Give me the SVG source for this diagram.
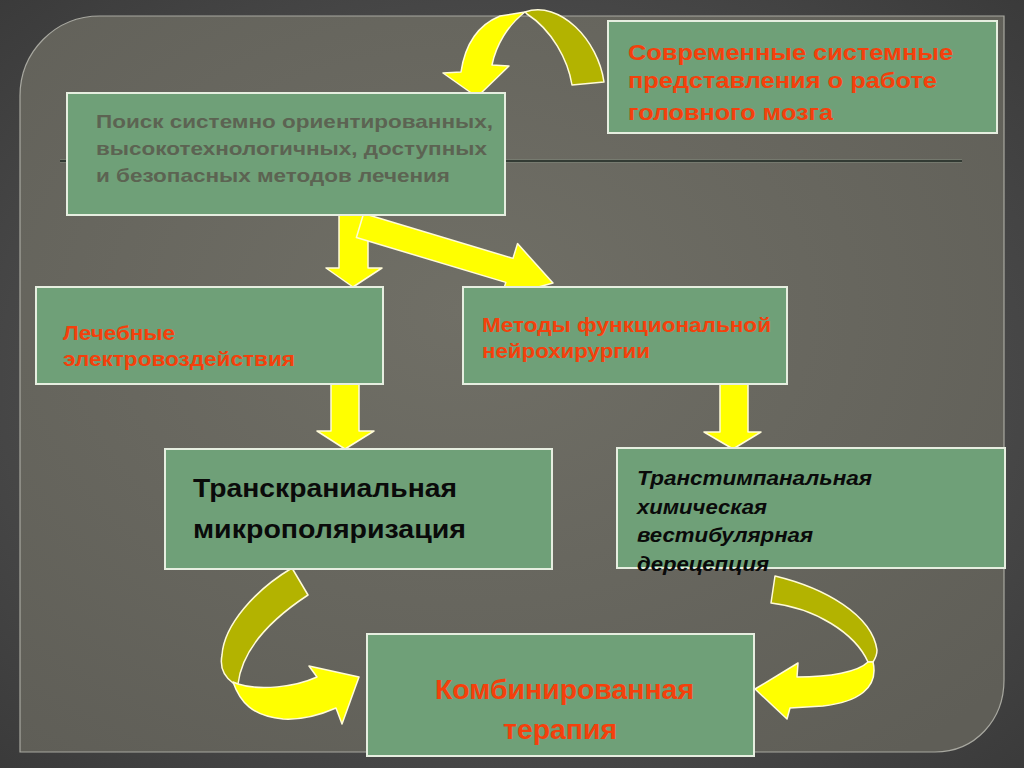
<svg xmlns="http://www.w3.org/2000/svg" width="1024" height="768" viewBox="0 0 1024 768">
<defs>
<radialGradient id="bg" cx="0.5" cy="0.5" r="0.75">
<stop offset="0" stop-color="#626262"/>
<stop offset="1" stop-color="#383838"/>
</radialGradient>
<radialGradient id="panel" cx="0.45" cy="0.4" r="0.75">
<stop offset="0" stop-color="#706f66"/>
<stop offset="1" stop-color="#5f5e57"/>
</radialGradient>
<style>
.box{fill:#6fa078;stroke:#e6eee0;stroke-width:2}
.t{font-family:"Liberation Sans",Arial,sans-serif;font-weight:bold}
.red{fill:#f4400c}
.gray{fill:#5c6352}
.blk{fill:#0a0a0a}
.y{fill:#ffff00;stroke:#fffbd8;stroke-width:1.5;stroke-linejoin:round}
.o{fill:#b3b300;stroke:#fffbd8;stroke-width:1.5;stroke-linejoin:round}
</style>
</defs>
<rect width="1024" height="768" fill="url(#bg)"/>
<path d="M100,16 H1004 V680 C1004,720 975,752 935,752 H20 V96 C20,52 55,16 100,16 Z" fill="url(#panel)" stroke="#a8a8a0" stroke-width="1.2"/>
<line x1="60" y1="161" x2="962" y2="161" stroke="#80877a" stroke-width="4" opacity="0.6"/>
<line x1="60" y1="161" x2="962" y2="161" stroke="#1c2620" stroke-width="1.5"/>

<g id="connectors">
<path class="o" d="M525,12 C560,0 598,40 604,82 L572,85 C568,60 552,30 527,14 Z"/>
<path class="y" d="M500,16 L525,12 C508,25 496,45 492,65 L509,66 L477,97 L443,73 L461,72 C465,45 478,25 500,16 Z"/>
<path class="y" d="M339,213 H368 V268 H382 L353,287 L326,268 H339 Z"/>
<path class="y" d="M363.6,213.5 L513,258.4 L517.5,243.6 L553,283 L501.3,297.2 L505.8,282.4 L356.4,237.5 Z"/>
<path class="y" d="M331,384 H359 V431 H374 L345,449 L317,431 H331 Z"/>
<path class="y" d="M720,384 H748 V432 H761 L733,449 L704,432 H720 Z"/>
<path class="o" d="M292,568 L308,595 C270,620 242,650 238,684 L233,683 C222,675 220,665 222,655 C224,625 255,590 292,568 Z"/>
<path class="y" d="M233,682 C240,702 252,716 283,719 C300,720 320,715 336,708 L342,724 L359,677 L309,666 L317,677 C295,687 260,691 238,684 Z"/>
<path class="o" d="M775,576 C825,588 872,615 877,650 C877,655 875,659 873,662 L868,662 C855,633 815,608 771,603 Z"/>
<path class="y" d="M873,662 C879,688 858,702 823,706 L790,708 L787,719 L755,689 L798,663 L797,677 C830,677 858,672 868,662 Z"/>
</g>

<g id="node-search">
<rect class="box" x="67" y="93" width="438" height="122"/>
<text class="t gray" font-size="19"><tspan x="96" y="128" textLength="397" lengthAdjust="spacingAndGlyphs">Поиск системно ориентированных,</tspan><tspan x="96" y="155" textLength="391" lengthAdjust="spacingAndGlyphs">высокотехнологичных, доступных</tspan><tspan x="96" y="182" textLength="354" lengthAdjust="spacingAndGlyphs">и безопасных методов лечения</tspan></text>
</g>

<g id="node-modern">
<rect class="box" x="608" y="21" width="389" height="112"/>
<text class="t red" font-size="21.5"><tspan x="628" y="60" textLength="325" lengthAdjust="spacingAndGlyphs">Современные системные</tspan><tspan x="628" y="88" textLength="309" lengthAdjust="spacingAndGlyphs">представления о работе</tspan><tspan x="628" y="120" textLength="205" lengthAdjust="spacingAndGlyphs">головного мозга</tspan></text>
</g>

<g id="node-electro">
<rect class="box" x="36" y="287" width="347" height="97"/>
<text class="t red" font-size="20"><tspan x="63" y="340" textLength="112" lengthAdjust="spacingAndGlyphs">Лечебные</tspan><tspan x="63" y="366" textLength="232" lengthAdjust="spacingAndGlyphs">электровоздействия</tspan></text>
</g>

<g id="node-neuro">
<rect class="box" x="463" y="287" width="324" height="97"/>
<text class="t red" font-size="20"><tspan x="482" y="332" textLength="289" lengthAdjust="spacingAndGlyphs">Методы функциональной</tspan><tspan x="482" y="358" textLength="168" lengthAdjust="spacingAndGlyphs">нейрохирургии</tspan></text>
</g>

<g id="node-tcmp">
<rect class="box" x="165" y="449" width="387" height="120"/>
<text class="t blk" font-size="25"><tspan x="193" y="497" textLength="264" lengthAdjust="spacingAndGlyphs">Транскраниальная</tspan><tspan x="193" y="538" textLength="273" lengthAdjust="spacingAndGlyphs">микрополяризация</tspan></text>
</g>

<g id="node-transtymp">
<rect class="box" x="617" y="448" width="388" height="120"/>
<text class="t blk" font-size="20" font-style="italic"><tspan x="637" y="485" textLength="235" lengthAdjust="spacingAndGlyphs">Транстимпанальная</tspan><tspan x="637" y="514" textLength="130" lengthAdjust="spacingAndGlyphs">химическая</tspan><tspan x="637" y="542" textLength="176" lengthAdjust="spacingAndGlyphs">вестибулярная</tspan><tspan x="637" y="571" textLength="132" lengthAdjust="spacingAndGlyphs">дерецепция</tspan></text>
</g>

<g id="node-combined">
<rect class="box" x="367" y="634" width="387" height="122"/>
<text class="t red" font-size="28"><tspan x="435" y="699" textLength="259" lengthAdjust="spacingAndGlyphs">Комбинированная</tspan><tspan x="503" y="739" textLength="114" lengthAdjust="spacingAndGlyphs">терапия</tspan></text>
</g>
</svg>
